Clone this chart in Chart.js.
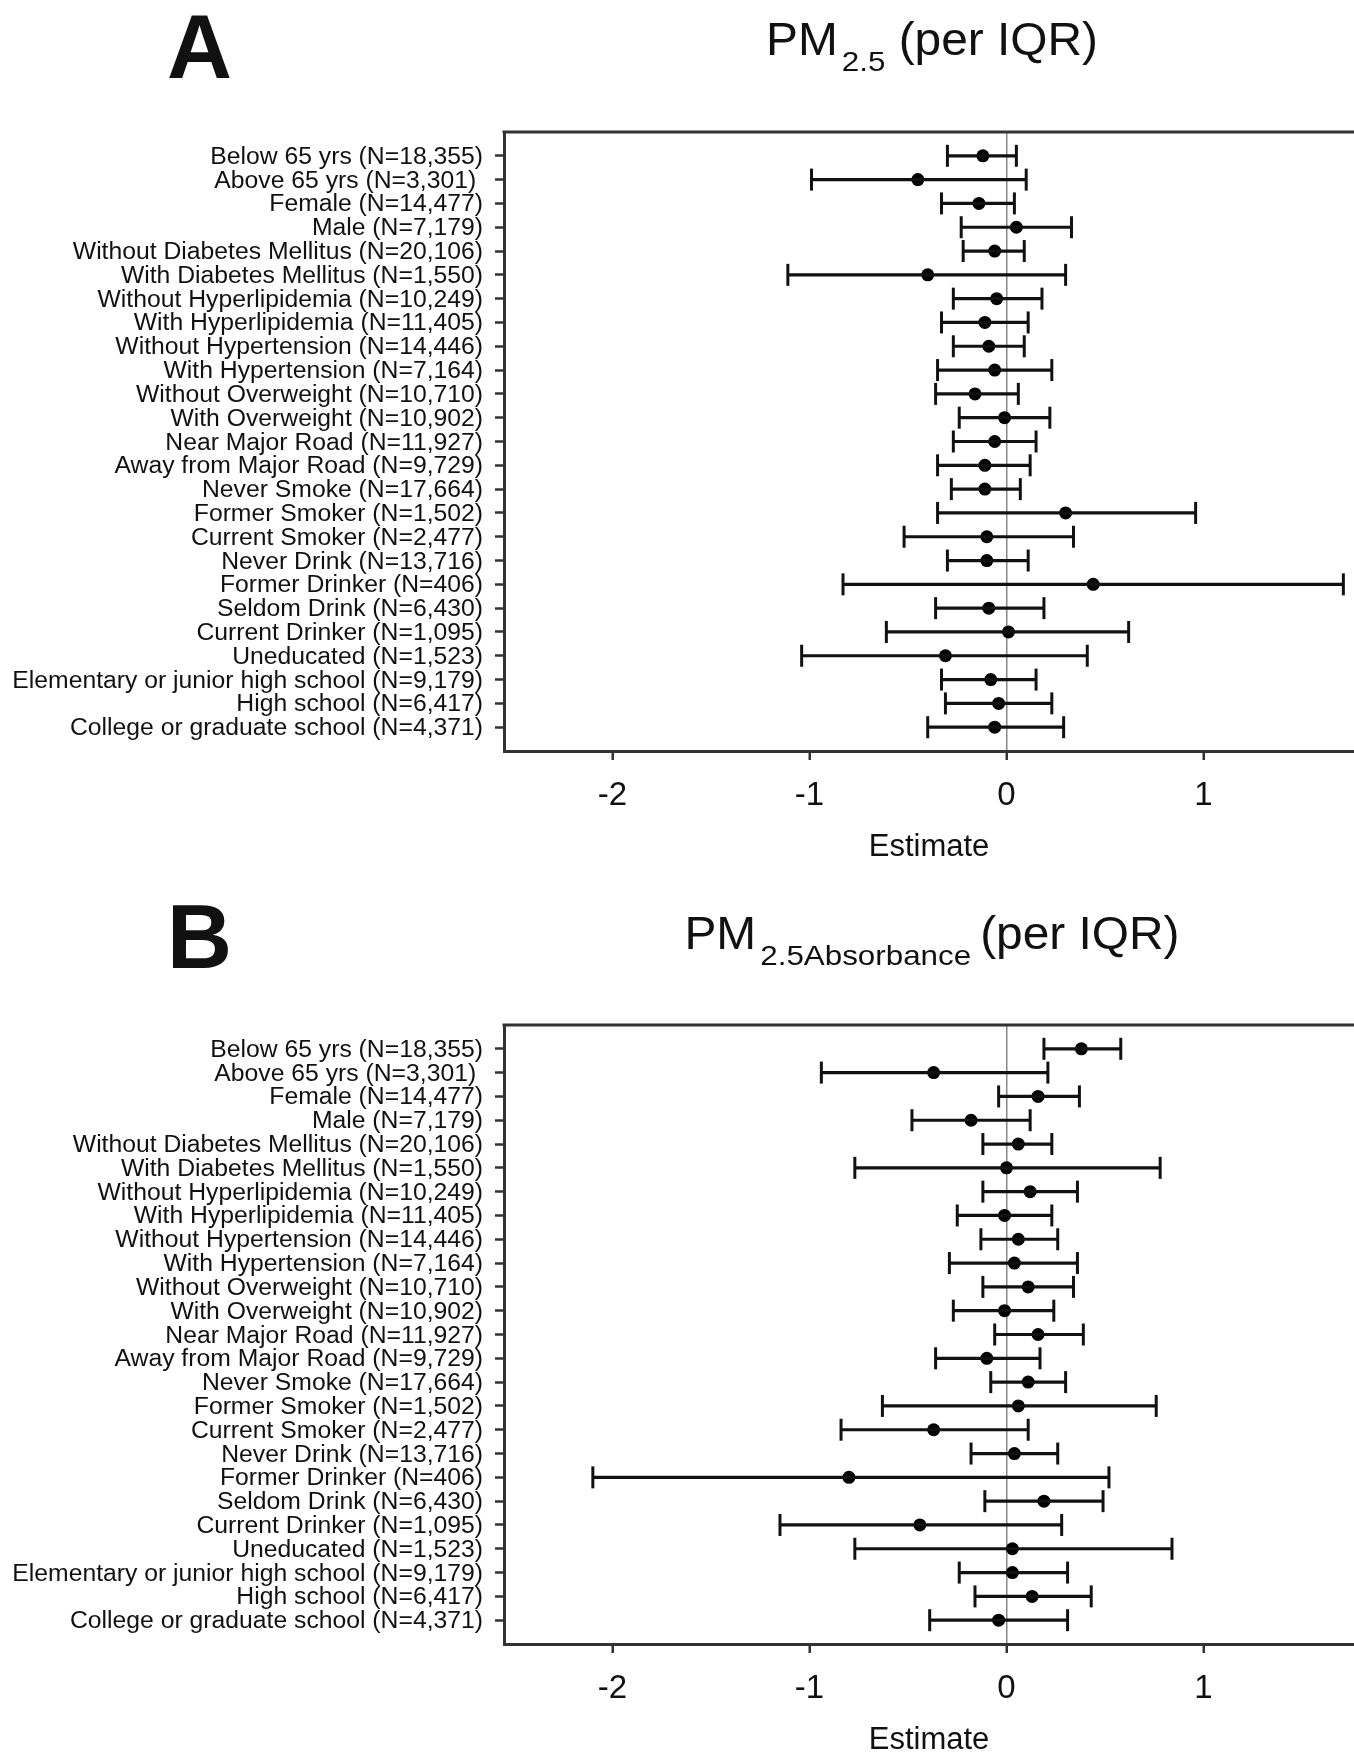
<!DOCTYPE html>
<html lang="en">
  <head>
    <title>Subgroup estimates per IQR</title>
    <meta charset="utf-8" />
    <style>
      html, body { margin: 0; padding: 0; background: #fff; overflow: hidden; }
      .panel { position: relative; width: 1354px; height: 893px; }
    </style>
  </head>
  <body>
    <div class="panel"><canvas id="chartA"></canvas></div>
    <div class="panel"><canvas id="chartB"></canvas></div>

    <script src="https://cdn.jsdelivr.net/npm/chart.js"></script>
    <script>
      const subgroups = [
        "Below 65 yrs (N=18,355)",
        "Above 65 yrs (N=3,301) ",
        "Female (N=14,477)",
        "Male (N=7,179)",
        "Without Diabetes Mellitus (N=20,106)",
        "With Diabetes Mellitus (N=1,550)",
        "Without Hyperlipidemia (N=10,249)",
        "With Hyperlipidemia (N=11,405)",
        "Without Hypertension (N=14,446)",
        "With Hypertension (N=7,164)",
        "Without Overweight (N=10,710)",
        "With Overweight (N=10,902)",
        "Near Major Road (N=11,927)",
        "Away from Major Road (N=9,729)",
        "Never Smoke (N=17,664)",
        "Former Smoker (N=1,502)",
        "Current Smoker (N=2,477)",
        "Never Drink (N=13,716)",
        "Former Drinker (N=406)",
        "Seldom Drink (N=6,430)",
        "Current Drinker (N=1,095)",
        "Uneducated (N=1,523)",
        "Elementary or junior high school (N=9,179)",
        "High school (N=6,417)",
        "College or graduate school (N=4,371)",
      ];

      // PM2.5 (per IQR)
      const pmEst = [-0.12, -0.45, -0.14, 0.05, -0.06, -0.40, -0.05, -0.11, -0.09, -0.06, -0.16, -0.01, -0.06, -0.11, -0.11, 0.30, -0.10, -0.10, 0.44, -0.09, 0.01, -0.31, -0.08, -0.04, -0.06];
      const pmLow = [-0.30, -0.99, -0.33, -0.23, -0.22, -1.11, -0.27, -0.33, -0.27, -0.35, -0.36, -0.24, -0.27, -0.35, -0.28, -0.35, -0.52, -0.30, -0.83, -0.36, -0.61, -1.04, -0.33, -0.31, -0.40];
      const pmHigh = [0.05, 0.10, 0.04, 0.33, 0.09, 0.30, 0.18, 0.11, 0.09, 0.23, 0.06, 0.22, 0.15, 0.12, 0.07, 0.96, 0.34, 0.11, 1.71, 0.19, 0.62, 0.41, 0.15, 0.23, 0.29];

      // PM2.5 absorbance (per IQR)
      const absEst = [0.38, -0.37, 0.16, -0.18, 0.06, 0.00, 0.12, -0.01, 0.06, 0.04, 0.11, -0.01, 0.16, -0.10, 0.11, 0.06, -0.37, 0.04, -0.80, 0.19, -0.44, 0.03, 0.03, 0.13, -0.04];
      const absLow = [0.19, -0.94, -0.04, -0.48, -0.12, -0.77, -0.12, -0.25, -0.13, -0.29, -0.12, -0.27, -0.06, -0.36, -0.08, -0.63, -0.84, -0.18, -2.10, -0.11, -1.15, -0.77, -0.24, -0.16, -0.39];
      const absHigh = [0.58, 0.21, 0.37, 0.12, 0.23, 0.78, 0.36, 0.23, 0.26, 0.36, 0.34, 0.24, 0.39, 0.17, 0.30, 0.76, 0.11, 0.26, 0.52, 0.49, 0.28, 0.84, 0.31, 0.43, 0.31];

      const xTicks = [-2, -1, 0, 1];
      const xMin = -2.551;
      const xMax = 1.764;

      const FONT = '"Liberation Sans", Arial, Helvetica, sans-serif';
      const INK = "#111";
      const FRAME = "#333";

      // box top line, row labels, panel letter and title
      const panelDecor = {
        id: "panelDecor",
        afterDraw(chart, args, opts) {
          const { ctx, chartArea, scales } = chart;
          ctx.save();

          ctx.strokeStyle = FRAME;
          ctx.lineWidth = 3;
          ctx.beginPath();
          ctx.moveTo(chartArea.left - 1.5, chartArea.top);
          ctx.lineTo(chartArea.right, chartArea.top);
          ctx.stroke();

          ctx.fillStyle = INK;
          ctx.font = "23px " + FONT;
          ctx.textAlign = "right";
          ctx.textBaseline = "alphabetic";
          const labelRight = scales.y.right - 21;
          subgroups.forEach((name, i) => {
            const y = scales.y.getPixelForValue(i + 1);
            ctx.save();
            ctx.translate(labelRight, y + 8);
            ctx.scale(1.075, 1);
            ctx.fillText(name, 0, 0);
            ctx.restore();
          });

          ctx.textAlign = "left";
          ctx.font = "bold 90px " + FONT;
          ctx.fillText(opts.letter, 167, opts.letterY);

          const sxMain = 1.04, sxSub = 1.12;
          const mainFont = "46px " + FONT, subFont = "28px " + FONT;
          ctx.font = mainFont;
          const w1 = ctx.measureText(opts.main).width * sxMain;
          const w3 = ctx.measureText(opts.rest).width * sxMain;
          ctx.font = subFont;
          const w2 = ctx.measureText(opts.sub).width * sxSub;
          const total = w1 + opts.gap1 + w2 + opts.gap2 + w3;
          let x = (chartArea.left + chartArea.right) / 2 + 3 - total / 2;

          const piece = (text, font, sx, y) => {
            ctx.save();
            ctx.font = font;
            ctx.translate(x, y);
            ctx.scale(sx, 1);
            ctx.fillText(text, 0, 0);
            ctx.restore();
          };
          piece(opts.main, mainFont, sxMain, opts.titleY);
          x += w1 + opts.gap1;
          piece(opts.sub, subFont, sxSub, opts.titleY + 16);
          x += w2 + opts.gap2;
          piece(opts.rest, mainFont, sxMain, opts.titleY);

          ctx.restore();
        },
      };

      function buildDatasets(est, low, high) {
        const bars = subgroups.map((name, i) => ({
          label: name,
          showLine: true,
          data: [
            { x: low[i], y: i + 1 },
            { x: high[i], y: i + 1 },
          ],
          borderColor: INK,
          borderWidth: 3.2,
          pointStyle: "line",
          pointRotation: 90,
          pointRadius: 11,
          pointBorderWidth: 3,
          pointBorderColor: INK,
        }));
        bars.push({
          label: "Estimate",
          showLine: false,
          data: est.map((v, i) => ({ x: v, y: i + 1 })),
          pointStyle: "circle",
          pointRadius: 6.5,
          backgroundColor: "#000",
          borderWidth: 0,
        });
        return bars;
      }

      function makeChart(id, est, low, high, title) {
        return new Chart(document.querySelector(id), {
          type: "scatter",
          data: { datasets: buildDatasets(est, low, high) },
          options: {
            responsive: true,
            maintainAspectRatio: false,
            animation: false,
            events: [],
            layout: {
              autoPadding: false,
              padding: { top: 132, left: 0, right: 0, bottom: 0 },
            },
            plugins: {
              legend: { display: false },
              tooltip: { enabled: false },
              panelDecor: title,
            },
            scales: {
              x: {
                type: "linear",
                min: xMin,
                max: xMax,
                afterBuildTicks: (s) => {
                  s.ticks = xTicks.map((v) => ({ value: v }));
                },
                afterFit: (s) => {
                  s.height = 142;
                  s.paddingLeft = 0;
                  s.paddingRight = 0;
                },
                ticks: {
                  font: { size: 33, family: FONT },
                  color: INK,
                  padding: 16,
                  maxRotation: 0,
                  autoSkip: false,
                  callback: (v) => String(v),
                },
                grid: {
                  color: (c) => (c.tick && c.tick.value === 0 ? "#888" : "rgba(0,0,0,0)"),
                  lineWidth: 1.5,
                  tickColor: FRAME,
                  tickLength: 9,
                  tickWidth: 2.5,
                },
                border: { color: FRAME, width: 3 },
                title: {
                  display: true,
                  text: "Estimate",
                  font: { size: 31, family: FONT },
                  color: INK,
                  padding: { top: 0, bottom: 27 },
                },
              },
              y: {
                type: "linear",
                min: 0,
                max: 26,
                reverse: true,
                afterBuildTicks: (s) => {
                  s.ticks = subgroups.map((_, i) => ({ value: i + 1 }));
                },
                afterFit: (s) => {
                  s.width = 504;
                },
                ticks: { display: false },
                grid: {
                  drawOnChartArea: false,
                  tickLength: 9,
                  tickColor: FRAME,
                  tickWidth: 2.5,
                },
                border: { color: FRAME, width: 3 },
              },
            },
          },
          plugins: [panelDecor],
        });
      }

      makeChart("#chartA", pmEst, pmLow, pmHigh, {
        letter: "A", letterY: 78, titleY: 55,
        main: "PM", sub: "2.5", rest: " (per IQR)", gap1: 4, gap2: 0,
      });
      makeChart("#chartB", absEst, absLow, absHigh, {
        letter: "B", letterY: 75, titleY: 56,
        main: "PM", sub: "2.5Absorbance", rest: "(per IQR)", gap1: 4, gap2: 9,
      });
    </script>
  </body>
</html>
